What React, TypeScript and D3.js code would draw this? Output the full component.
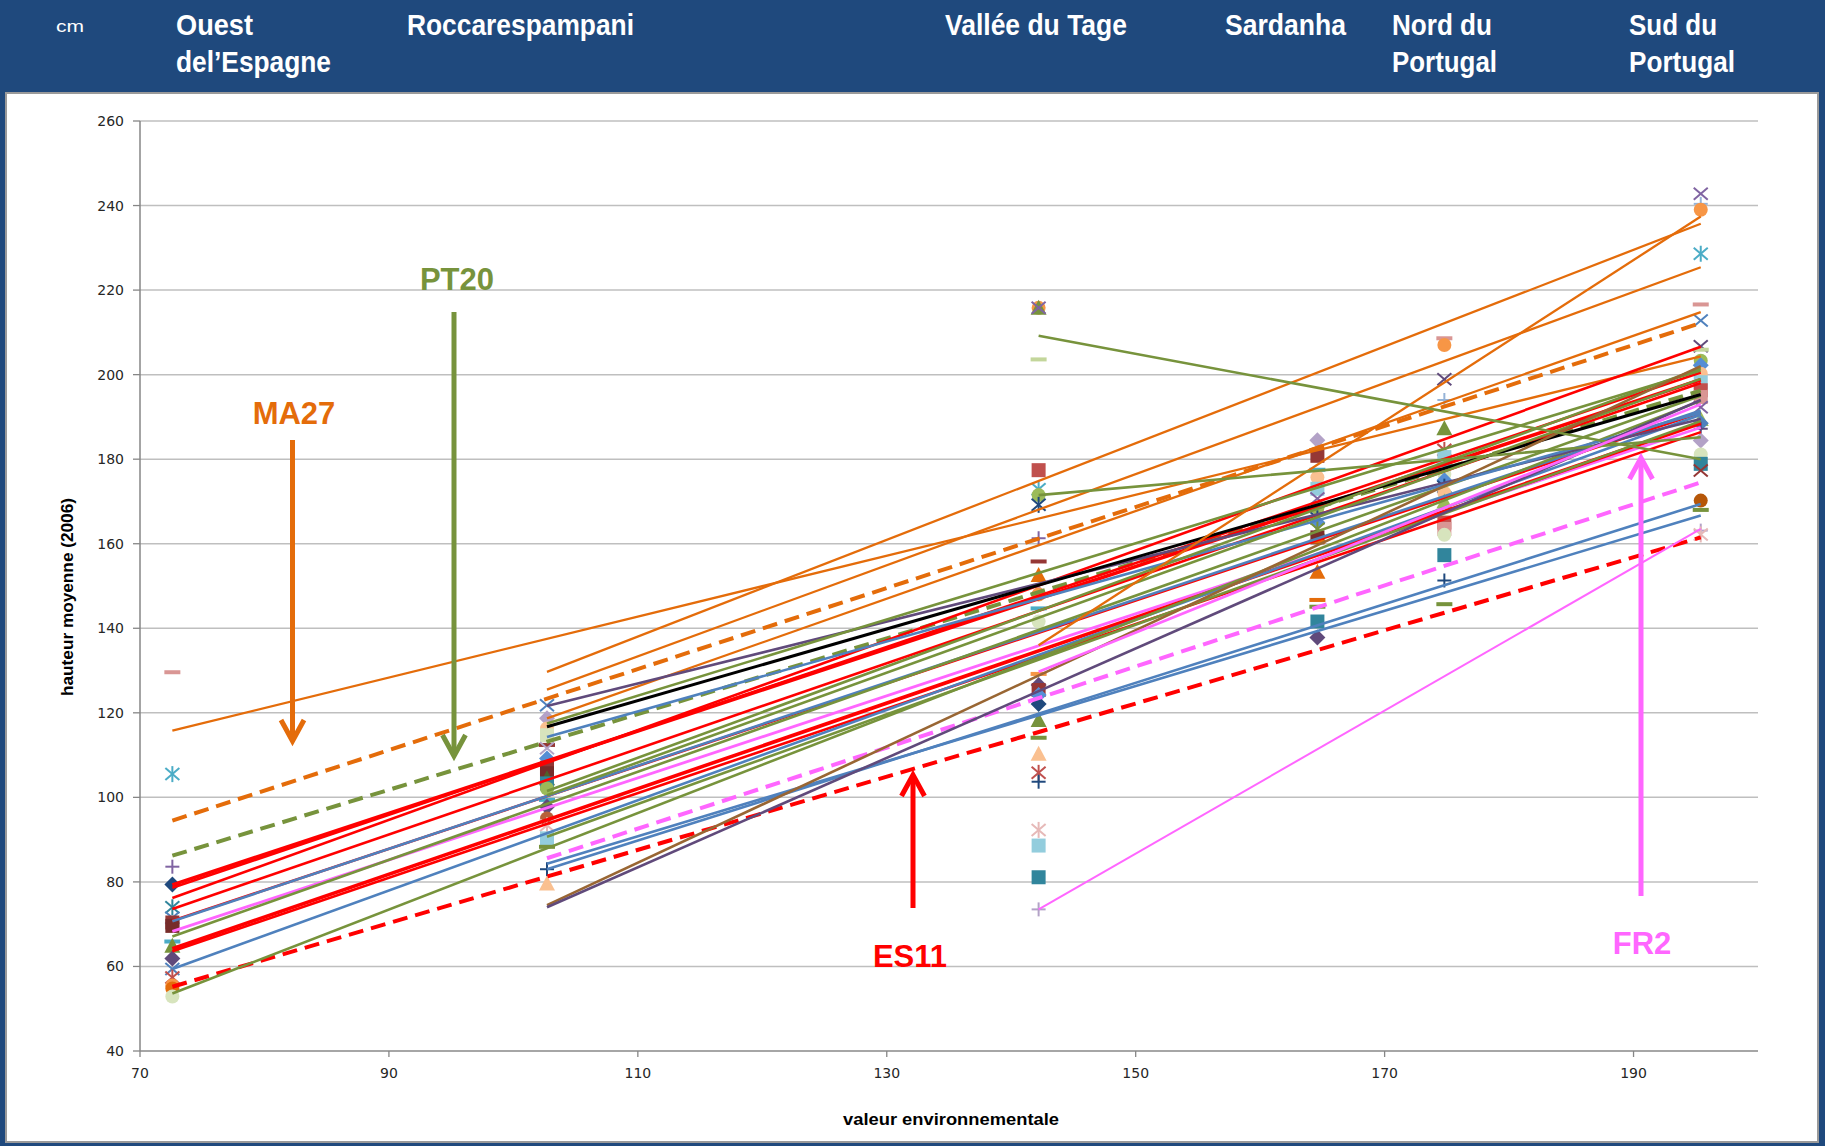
import React from 'react';
import * as d3 from 'd3';

const W = 1825;
const H = 1146;

// axes
const xTicks = [70, 90, 110, 130, 150, 170, 190];
const yTicks = [40, 60, 80, 100, 120, 140, 160, 180, 200, 220, 240, 260];

// environmental value of each test site
const siteValues = [72.6, 102.7, 142.2, 164.6, 174.8, 195.4];
const siteLabels = [
  ['Ouest', 'del’Espagne'],
  ['Roccarespampani'],
  ['Vallée du Tage'],
  ['Sardanha'],
  ['Nord du', 'Portugal'],
  ['Sud du', 'Portugal'],
];

// regression lines (start site index, height at start, height at last site)
const lineStartSite = [0, 0, 0, 0, 0, 0, 0, 0, 0, 0, 0, 0, 0, 0, 0, 0,
  1, 1, 1, 1, 1, 1, 1, 1, 1, 1, 1, 1, 1, 1, 1,
  2, 2, 2, 2, 2];
const lineStartHeight = [115.8, 94.5, 86.2, 79.3, 78.6, 76.2, 73.6, 70.8, 70.7, 68.3, 67.1, 64.2, 63.6, 59.4, 55.2, 53.6,
  129.7, 125.5, 118.7, 121.6, 116.7, 117.5, 114.3, 101.5, 100.5, 90.7, 85.6, 83.0, 84.3, 74.5, 74.0,
  136.0, 209.2, 171.5, 73.5, 129.7];
const lineEndHeight = [204.3, 212.2, 196.2, 198.8, 200.5, 206.6, 198.0, 191.0, 191.5, 187.5, 195.0, 188.5, 186.4, 190.5, 161.5, 193.8,
  235.7, 225.4, 214.8, 189.5, 195.3, 201.0, 191.0, 201.5, 199.0, 189.0, 174.5, 169.4, 166.7, 202.0, 194.0,
  237.4, 180.0, 185.2, 163.5, 193.0];
const lineSeries = ['orange', 'orangeDash', 'greenDash', 'redBold', 'red', 'red', 'red', 'red', 'blue', 'magenta', 'green', 'redBold', 'red', 'blue', 'redDash', 'green',
  'orange', 'orange', 'orange', 'purple', 'black', 'green', 'blue', 'green', 'green', 'green', 'magentaDash', 'blue', 'blue', 'brown', 'purple',
  'orange', 'green', 'green', 'magentaThin', 'magenta'];

// observed mean heights per site
const site1Heights = [129.6, 105.5, 83.6, 79.4, 74.0, 71.5, 70.4, 69.6, 65.9, 64.9, 61.9, 59.4, 57.4, 55.5, 54.8, 52.9];
const site1Kinds = ['dash:#D99694', 'star:#4BACC6', 'plus:#8064A2', 'diamond:#1F497D', 'star:#31859C', 'x:#4F81BD', 'square:#953735', 'square:#772C2A', 'dash:#4BACC6', 'triangle:#77933C', 'diamond:#604A7B', 'x:#4F81BD', 'star:#C0504D', 'circle:#F79646', 'circle:#E46C0A', 'circle:#D7E4BD'];
const site2Heights = [121.8, 118.7, 116.3, 114.7, 112.4, 111.6, 109.2, 107.0, 105.7, 104.5, 103.3, 102.1, 99.4, 97.8, 95.0, 93.4, 90.3, 88.3, 83.0, 79.6];
const site2Kinds = ['x:#4F81BD', 'diamond:#B3A2C7', 'circle:#FAC090', 'square:#D7E4BD', 'dash:#953735', 'x:#B3A2C7', 'diamond:#558ED5', 'square:#953735', 'square:#772C2A', 'triangle:#4F6228', 'square:#31859C', 'circle:#9BBB59', 'dash:#4BACC6', 'diamond:#604A7B', 'circle:#B7613A', 'star:#E6B9B8', 'square:#93CDDD', 'dash:#77933C', 'plus:#1F497D', 'triangle:#FAC090'];
const site3Heights = [215.8, 215.8, 215.8, 203.6, 177.4, 172.9, 171.5, 169.2, 161.3, 155.8, 152.6, 148.3, 148.0, 144.7, 141.6, 129.2, 126.6, 125.4, 124.2, 122.1, 118.3, 114.1, 110.3, 105.8, 103.7, 92.3, 88.6, 81.1, 73.5];
const site3Kinds = ['circle:#F79646', 'triangle:#77933C', 'x:#8064A2', 'dash:#C3D69B', 'square:#C0504D', 'star:#4BACC6', 'circle:#9BBB59', 'star:#1F497D', 'plus:#8064A2', 'dash:#953735', 'triangle:#E46C0A', 'diamond:#B3A2C7', 'circle:#F79646', 'dash:#4BACC6', 'circle:#D7E4BD', 'dash:#F79646', 'diamond:#604A7B', 'square:#953735', 'diamond:#558ED5', 'diamond:#1F497D', 'triangle:#77933C', 'dash:#77933C', 'triangle:#FAC090', 'star:#C0504D', 'plus:#1F497D', 'star:#E6B9B8', 'square:#93CDDD', 'square:#31859C', 'plus:#B3A2C7'];
const site4Heights = [184.5, 180.8, 177.5, 175.7, 173.0, 170.7, 168.5, 166.0, 165.0, 163.5, 161.5, 160.5, 153.4, 146.7, 145.1, 141.6, 137.8];
const site4Kinds = ['diamond:#B3A2C7', 'square:#953735', 'dash:#4BACC6', 'circle:#FAC090', 'square:#93CDDD', 'x:#8064A2', 'circle:#9BBB59', 'star:#1F497D', 'diamond:#558ED5', 'star:#77933C', 'square:#772C2A', 'dash:#E46C0A', 'triangle:#E46C0A', 'dash:#E46C0A', 'dash:#77933C', 'square:#31859C', 'diamond:#604A7B'];
const site5Heights = [208.6, 207.0, 198.9, 194.0, 187.3, 182.2, 180.5, 178.5, 176.5, 175.0, 173.5, 172.0, 170.0, 165.0, 163.5, 162.1, 157.3, 151.3, 145.7];
const site5Kinds = ['dash:#D99694', 'circle:#F79646', 'x:#604A7B', 'plus:#95B3D7', 'triangle:#77933C', 'star:#C0504D', 'square:#93CDDD', 'dash:#4BACC6', 'circle:#D7E4BD', 'diamond:#558ED5', 'star:#1F497D', 'circle:#FAC090', 'triangle:#9BBB59', 'square:#C0504D', 'square:#D99694', 'circle:#D7E4BD', 'square:#31859C', 'plus:#1F497D', 'dash:#77933C'];
const site6Heights = [242.8, 240.4, 239.0, 228.6, 216.6, 212.8, 206.7, 205.9, 203.3, 202.2, 200.2, 198.2, 196.3, 194.7, 192.3, 189.5, 188.5, 187.2, 184.4, 181.1, 178.9, 177.3, 170.2, 168.0, 163.1, 162.2];
const site6Kinds = ['x:#8064A2', 'plus:#95B3D7', 'circle:#F79646', 'star:#4BACC6', 'dash:#D99694', 'x:#4F81BD', 'x:#604A7B', 'dash:#C3D69B', 'circle:#9BBB59', 'diamond:#558ED5', 'circle:#FAC090', 'square:#93CDDD', 'square:#C0504D', 'square:#D99694', 'x:#8064A2', 'triangle:#9BBB59', 'diamond:#4F81BD', 'plus:#604A7B', 'diamond:#B3A2C7', 'circle:#D7E4BD', 'square:#31859C', 'x:#953735', 'circle:#B65708', 'dash:#77933C', 'plus:#B3A2C7', 'star:#E6B9B8'];

const siteHeights = [site1Heights, site2Heights, site3Heights, site4Heights, site5Heights, site6Heights];
const siteKinds = [site1Kinds, site2Kinds, site3Kinds, site4Kinds, site5Kinds, site6Kinds];

// annotations
const annotationLabels = ['MA27', 'PT20', 'ES11', 'FR2'];

// ---------- styles / layout ----------
const lineStyles: Record<string, { color: string; width: number; dash?: string }> = {
  orange: { color: '#E46C0A', width: 2.3 },
  orangeDash: { color: '#E46C0A', width: 4, dash: '15 8' },
  greenDash: { color: '#77933C', width: 4, dash: '15 8' },
  green: { color: '#77933C', width: 2.6 },
  redBold: { color: '#FF0000', width: 3.6 },
  red: { color: '#FF0000', width: 2.6 },
  redDash: { color: '#FF0000', width: 4, dash: '15 8' },
  blue: { color: '#4F81BD', width: 2.6 },
  magenta: { color: '#FF66FF', width: 2.8 },
  magentaThin: { color: '#FF66FF', width: 2 },
  magentaDash: { color: '#FF66FF', width: 4, dash: '15 8' },
  purple: { color: '#604A7B', width: 2.6 },
  brown: { color: '#996633', width: 2.6 },
  black: { color: '#000000', width: 3 },
};

const bannerX = [176, 407, 945, 1225, 1392, 1629];
const bannerWidths = [[77, 155], [227], [182], [121], [100, 105], [88, 106]];

const annotationColors = ['#E46C0A', '#77933C', '#FF0000', '#FF66FF'];
const annotationLayout = [
  { tx: 294, ty: 424, ax: 292.5, y1: 440, y2: 741, down: true },
  { tx: 457, ty: 290, ax: 454, y1: 312, y2: 756, down: true },
  { tx: 910, ty: 967, ax: 913, y1: 908, y2: 775, down: false },
  { tx: 1642, ty: 954, ax: 1641, y1: 896, y2: 458, down: false },
];

function Marker({ cx, cy, kind }: { cx: number; cy: number; kind: string }) {
  const [shape, color] = kind.split(':');
  const s = 7;
  switch (shape) {
    case 'diamond':
      return <polygon points={`${cx},${cy - s - 1} ${cx + s + 1},${cy} ${cx},${cy + s + 1} ${cx - s - 1},${cy}`} fill={color} />;
    case 'square':
      return <rect x={cx - s} y={cy - s} width={2 * s} height={2 * s} fill={color} />;
    case 'triangle':
      return <polygon points={`${cx},${cy - s - 1} ${cx + s + 1},${cy + s} ${cx - s - 1},${cy + s}`} fill={color} />;
    case 'circle':
      return <circle cx={cx} cy={cy} r={s} fill={color} />;
    case 'x':
      return (
        <g stroke={color} strokeWidth={2}>
          <line x1={cx - s} y1={cy - s + 1} x2={cx + s} y2={cy + s - 1} />
          <line x1={cx - s} y1={cy + s - 1} x2={cx + s} y2={cy - s + 1} />
        </g>
      );
    case 'star':
      return (
        <g stroke={color} strokeWidth={2}>
          <line x1={cx - s} y1={cy - s + 1} x2={cx + s} y2={cy + s - 1} />
          <line x1={cx - s} y1={cy + s - 1} x2={cx + s} y2={cy - s + 1} />
          <line x1={cx} y1={cy - s - 1} x2={cx} y2={cy + s + 1} />
        </g>
      );
    case 'plus':
      return (
        <g stroke={color} strokeWidth={2}>
          <line x1={cx - s} y1={cy} x2={cx + s} y2={cy} />
          <line x1={cx} y1={cy - s} x2={cx} y2={cy + s} />
        </g>
      );
    default:
      return <rect x={cx - 8} y={cy - 2} width={16} height={4} fill={color} />;
  }
}

export default function App() {
  const x = d3.scaleLinear().domain([70, 200]).range([140, 1758]);
  const y = d3.scaleLinear().domain([40, 260]).range([1051, 121]);
  const line = d3.line<[number, number]>().x((d) => x(d[0])).y((d) => y(d[1]));
  const lastSite = siteValues[siteValues.length - 1];

  return (
    <svg width={W} height={H} style={{ position: 'absolute', left: 0, top: 0, display: 'block' }}
      fontFamily="'Liberation Sans', Arial, sans-serif">
      <rect x={0} y={0} width={W} height={H} fill="#1F497D" />
      <rect x={6} y={93} width={1812} height={1049} fill="#FFFFFF" stroke="#9A9A9A" strokeWidth={2} />

      {/* banner */}
      <text x={56} y={32} fill="#FFFFFF" fontSize={16} textLength={28} lengthAdjust="spacingAndGlyphs">cm</text>
      {siteLabels.map((lines, i) =>
        lines.map((t, j) => (
          <text key={`b${i}-${j}`} x={bannerX[i]} y={35 + j * 37} fill="#FFFFFF" fontSize={30} fontWeight="bold"
            textLength={bannerWidths[i][j]} lengthAdjust="spacingAndGlyphs">{t}</text>
        ))
      )}

      {/* grid */}
      {yTicks.map((t) => (
        <g key={`gy${t}`}>
          <line x1={x(70)} x2={x(200)} y1={y(t)} y2={y(t)} stroke={t === 40 ? '#A6A6A6' : '#BFBFBF'} strokeWidth={t === 40 ? 2 : 1.5} />
          <line x1={x(70) - 7} x2={x(70)} y1={y(t)} y2={y(t)} stroke="#868686" strokeWidth={1.3} />
          <text x={x(70) - 16} y={y(t) + 5} textAnchor="end" fontSize={14} fill="#262626" fontFamily="'DejaVu Sans', Verdana, sans-serif">{t}</text>
        </g>
      ))}
      <line x1={x(70)} x2={x(70)} y1={y(260)} y2={y(40)} stroke="#868686" strokeWidth={1.5} />
      {xTicks.map((t) => (
        <g key={`gx${t}`}>
          <line x1={x(t)} x2={x(t)} y1={y(40)} y2={y(40) + 6} stroke="#868686" strokeWidth={1.3} />
          <text x={x(t)} y={y(40) + 27} textAnchor="middle" fontSize={14} fill="#262626" fontFamily="'DejaVu Sans', Verdana, sans-serif">{t}</text>
        </g>
      ))}
      <text transform={`translate(73, 597) rotate(-90)`} textAnchor="middle" fontSize={16} fontWeight="bold" fill="#000"
        textLength={198} lengthAdjust="spacingAndGlyphs">hauteur moyenne (2006)</text>
      <text x={951} y={1125} textAnchor="middle" fontSize={17} fontWeight="bold" fill="#000"
        textLength={216} lengthAdjust="spacingAndGlyphs">valeur environnementale</text>

      {/* observed points */}
      {siteHeights.map((vals, si) =>
        vals.map((v, k) => (
          <Marker key={`m${si}-${k}`} cx={x(siteValues[si])} cy={y(v)} kind={siteKinds[si][k]} />
        ))
      )}

      {/* regression lines */}
      {lineStartSite.map((s, i) => {
        const st = lineStyles[lineSeries[i]];
        return (
          <path key={`l${i}`} d={line([[siteValues[s], lineStartHeight[i]], [lastSite, lineEndHeight[i]]]) || ''}
            fill="none" stroke={st.color} strokeWidth={st.width} strokeDasharray={st.dash} />
        );
      })}

      {/* annotations */}
      {annotationLabels.map((lab, i) => {
        const a = annotationLayout[i];
        const c = annotationColors[i];
        const dir = a.down ? -1 : 1;
        return (
          <g key={`a${i}`}>
            <text x={a.tx} y={a.ty} textAnchor="middle" fontSize={31} fontWeight="bold" fill={c}>{lab}</text>
            <line x1={a.ax} x2={a.ax} y1={a.y1} y2={a.y2} stroke={c} strokeWidth={5} />
            <polyline points={`${a.ax - 11.5},${a.y2 + dir * 21} ${a.ax},${a.y2} ${a.ax + 11.5},${a.y2 + dir * 21}`}
              fill="none" stroke={c} strokeWidth={5} strokeLinejoin="miter" />
          </g>
        );
      })}
    </svg>
  );
}
